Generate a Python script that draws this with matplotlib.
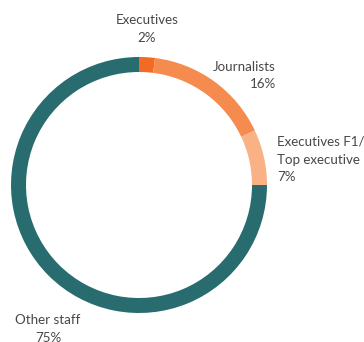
import matplotlib.pyplot as plt

# staff groups and their share of the total
groups = ["Executives", "Journalists", "Executives F1/\nTop executive", "Other staff"]
shares = [2, 16, 7, 75]
colors = ["#f26a24", "#f58b4e", "#f9b185", "#286c70"]

plt.rcParams['font.family'] = ['Lato', 'DejaVu Sans']

fig = plt.figure(figsize=(3.64, 3.42), dpi=100)
ax = fig.add_axes([0, 0, 1, 1])

ax.pie(shares, colors=colors, startangle=90, counterclock=False,
       center=(139, 157), radius=128, frame=True,
       wedgeprops=dict(width=15, edgecolor='none'))
ax.set_xlim(0, 364)
ax.set_ylim(0, 342)
ax.axis('off')

txt = dict(fontsize=9.6, fontweight='normal', color='#474747', linespacing=1.55)
ax.text(147, 328, f"{groups[0]}\n{shares[0]}%", ha='center', va='top', **txt)
ax.text(276, 281, f"{groups[1]}\n{shares[1]}%", ha='right', va='top', **txt)
ax.text(277, 206, f"{groups[2]}\n{shares[2]}%", ha='left', va='top', **txt)
ax.text(48, 28, f"{groups[3]}\n{shares[3]}%", ha='center', va='top', **txt)

fig.savefig("out.png", dpi=100)
